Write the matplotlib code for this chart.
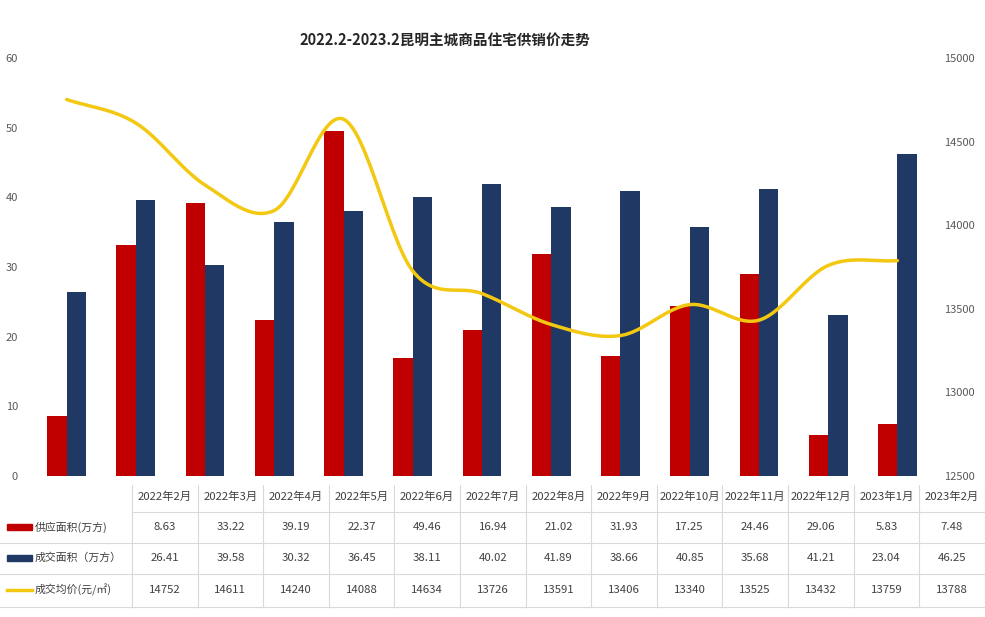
import numpy as np
import matplotlib.pyplot as plt
from matplotlib.patches import Rectangle

plt.rcParams['font.family'] = ['Noto Sans CJK SC', 'DejaVu Sans']

months = ['2022年2月', '2022年3月', '2022年4月', '2022年5月', '2022年6月', '2022年7月',
          '2022年8月', '2022年9月', '2022年10月', '2022年11月', '2022年12月', '2023年1月', '2023年2月']
supply = [8.63, 33.22, 39.19, 22.37, 49.46, 16.94, 21.02, 31.93, 17.25, 24.46, 29.06, 5.83, 7.48]
deals = [26.41, 39.58, 30.32, 36.45, 38.11, 40.02, 41.89, 38.66, 40.85, 35.68, 41.21, 23.04, 46.25]
price = [14752, 14611, 14240, 14088, 14634, 13726, 13591, 13406, 13340, 13525, 13432, 13759, 13788]
row_labels = ['供应面积(万方)', '成交面积（万方）', '成交均价(元/㎡)']

red = '#C00000'
navy = '#1F3864'
gold = '#F2C811'
grey = '#595959'
dark = '#404040'


def smooth(xs, ys, n=30):
    # catmull-rom like the excel "smoothed line"
    xs = np.asarray(xs, float)
    ys = np.asarray(ys, float)
    px = np.concatenate([[2 * xs[0] - xs[1]], xs, [2 * xs[-1] - xs[-2]]])
    py = np.concatenate([[2 * ys[0] - ys[1]], ys, [2 * ys[-1] - ys[-2]]])
    ox, oy = [], []
    t = np.linspace(0, 1, n)
    for i in range(1, len(px) - 2):
        for p, out in ((px, ox), (py, oy)):
            p0, p1, p2, p3 = p[i - 1], p[i], p[i + 1], p[i + 2]
            out.extend(0.5 * (2 * p1 + (-p0 + p2) * t + (2 * p0 - 5 * p1 + 4 * p2 - p3) * t ** 2
                              + (-p0 + 3 * p1 - 3 * p2 + p3) * t ** 3))
    return ox, oy


W, H = 985, 617
fig = plt.figure(figsize=(W / 100, H / 100), dpi=100)

ax = fig.add_axes([32 / W, 1 - 476 / H, 900 / W, 418 / H])
x = np.arange(len(months))
w = 0.28
ax.bar(x - w / 2, supply, w, color=red)
ax.bar(x + w / 2, deals, w, color=navy)
ax.set_xlim(-0.5, len(months) - 0.5)
ax.set_ylim(0, 60)
ax.set_yticks(range(0, 61, 10))
ax.set_xticks([])
ax.tick_params(axis='y', length=0, pad=10, labelsize=8, labelcolor=grey)
for s in ax.spines.values():
    s.set_visible(False)

ax2 = ax.twinx()
sx, sy = smooth(x, price)
ax2.plot(sx, sy, color=gold, lw=2.5, solid_capstyle='round')
ax2.set_ylim(12500, 15000)
ax2.set_yticks(range(12500, 15001, 500))
ax2.tick_params(axis='y', length=0, pad=9, labelsize=8, labelcolor=grey)
for s in ax2.spines.values():
    s.set_visible(False)

fig.text(445 / W, 1 - 40 / H, '2022.2-2023.2昆明主城商品住宅供销价走势',
         ha='center', va='center', fontsize=10.5, fontweight='bold', color='#262626')

# data table below the chart
tb = fig.add_axes([0, 0, 1, 1], zorder=-1)
tb.set_xlim(0, W)
tb.set_ylim(H, 0)
tb.axis('off')
x0, cw = 132, 65.6
rows_y = [497, 527, 558, 590]
line_c = '#D9D9D9'
for k in range(len(months) + 1):
    tb.plot([x0 + k * cw] * 2, [485, 607], color=line_c, lw=0.8)
for yy in [512, 543, 574, 607]:
    tb.plot([0 if yy > 512 else x0, W], [yy, yy], color=line_c, lw=0.8)

fs = 8.2
for i, m in enumerate(months):
    cx = x0 + (i + 0.5) * cw
    tb.text(cx, rows_y[0], m, ha='center', va='center', fontsize=fs, color=dark)
    tb.text(cx, rows_y[1], f'{supply[i]:.2f}', ha='center', va='center', fontsize=fs, color=dark)
    tb.text(cx, rows_y[2], f'{deals[i]:.2f}', ha='center', va='center', fontsize=fs, color=dark)
    tb.text(cx, rows_y[3], f'{price[i]}', ha='center', va='center', fontsize=fs, color=dark)

tb.add_patch(Rectangle((7, rows_y[1] - 3), 25, 6, color=red))
tb.add_patch(Rectangle((7, rows_y[2] - 3), 25, 6, color=navy))
tb.plot([7, 32], [rows_y[3], rows_y[3]], color=gold, lw=2.5)
for lab, yy in zip(row_labels, rows_y[1:]):
    tb.text(35, yy, lab, ha='left', va='center', fontsize=7.8, color=dark)

fig.savefig('out.png', dpi=100)
